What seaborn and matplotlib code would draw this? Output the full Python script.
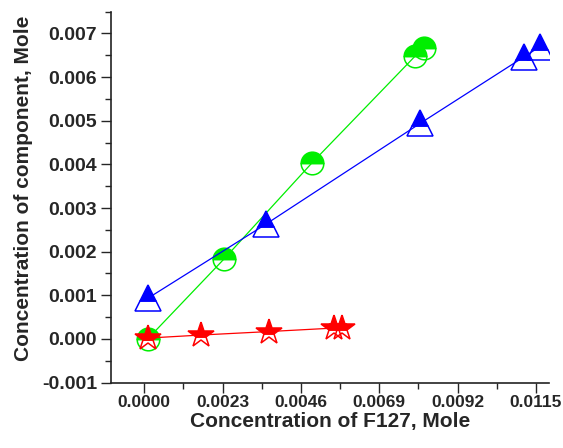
import numpy as np
import pandas as pd
import seaborn as sns
import matplotlib.pyplot as plt
from matplotlib.ticker import MultipleLocator, FormatStrFormatter

# data
green_x = [0.0001, 0.00235, 0.00493, 0.00795, 0.0082]
green_y = [0.0000, 0.00184, 0.00404, 0.00648, 0.00666]

blue_x = [0.0001, 0.00357, 0.0081, 0.01116, 0.01162]
blue_y = [0.00093, 0.00263, 0.00494, 0.00647, 0.0067]

red_x = [0.0001, 0.00167, 0.00367, 0.00558, 0.0058]
red_y = [0.00002, 0.00009, 0.00017, 0.00025, 0.00025]

x_ticks = [0.0000, 0.0023, 0.0046, 0.0069, 0.0092, 0.0115]

sns.set_style('ticks')
plt.rcParams['font.family'] = ['Liberation Sans', 'DejaVu Sans']
plt.rcParams['font.weight'] = 'bold'

fig, ax = plt.subplots(figsize=(5.63, 4.48), dpi=100)
fig.subplots_adjust(left=0.197, right=0.975, bottom=0.146, top=0.974)

series = [
    (green_x, green_y, '#00ee00', 'o', 16.3),
    (blue_x, blue_y, '#0000ff', '^', 18.5),
    (red_x, red_y, '#ff0000', '*', 19),
]
for xs, ys, col, mk, ms in series:
    df = pd.DataFrame({'x': xs, 'y': ys})
    sns.lineplot(data=df, x='x', y='y', sort=False, ax=ax, color=col, lw=0.9,
                 marker=mk, markersize=ms, fillstyle='top',
                 markerfacecolor=col, markerfacecoloralt='none',
                 markeredgecolor=col, markeredgewidth=1.1)

ax.set_xlim(-0.00098, 0.01188)
ax.set_ylim(-0.001, 0.0075)
ax.set_xticks(x_ticks)
ax.xaxis.set_minor_locator(MultipleLocator(0.00115))
ax.yaxis.set_major_locator(MultipleLocator(0.001))
ax.yaxis.set_minor_locator(MultipleLocator(0.0005))
ax.xaxis.set_major_formatter(FormatStrFormatter('%.4f'))
ax.yaxis.set_major_formatter(FormatStrFormatter('%.3f'))

for s in ['top', 'right']:
    ax.spines[s].set_visible(False)
for s in ['left', 'bottom']:
    ax.spines[s].set_linewidth(1.2)
    ax.spines[s].set_color('#222222')

ax.tick_params(which='major', length=7, width=1, pad=3)
ax.tick_params(which='minor', length=4, width=1)
ax.tick_params(axis='x', which='major', labelsize=12.5, pad=2)
ax.tick_params(axis='y', which='major', labelsize=14)

ax.set_xlabel('Concentration of F127, Mole', fontsize=15, fontweight='bold', labelpad=1.5)
ax.set_ylabel('Concentration of component, Mole', fontsize=15, fontweight='bold')
ax.yaxis.set_label_coords(-0.178, 0.5245)

fig.savefig('out.png', dpi=100)
